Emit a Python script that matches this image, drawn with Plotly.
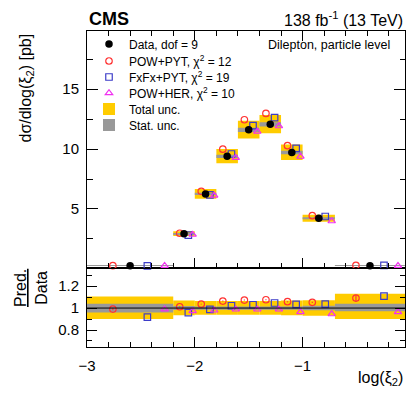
import plotly.graph_objects as go

# --- data ---
bin_edges = [-3.0, -2.2, -2.0, -1.8, -1.6, -1.4, -1.2, -1.0, -0.7, -0.05]
data_xsec = [0.27, 2.94, 6.25, 9.39, 11.6, 12.06, 9.72, 4.22, 0.27]

# relative uncertainties (up / down)
tot_up = [0.105, 0.07, 0.065, 0.065, 0.065, 0.065, 0.068, 0.072, 0.13]
tot_dn = [0.10, 0.065, 0.062, 0.062, 0.062, 0.062, 0.065, 0.07, 0.10]
stat_up = [0.04, 0.018, 0.015, 0.015, 0.015, 0.015, 0.015, 0.02, 0.04]
stat_dn = [0.04, 0.018, 0.015, 0.015, 0.015, 0.015, 0.015, 0.02, 0.03]

# prediction / data
ratio_powpyt = [0.991, 1.012, 1.036, 1.064, 1.073, 1.076, 1.058, 1.052, 1.091]
ratio_powpyt_err = [0.012, 0.004, 0.004, 0.004, 0.004, 0.004, 0.004, 0.006, 0.03]
ratio_fxfx = [0.918, 0.958, 0.988, 1.021, 1.030, 1.046, 1.034, 1.036, 1.109]
ratio_powher = [0.990, 0.973, 0.979, 0.988, 0.988, 0.988, 0.964, 0.945, 0.964]

legend_names = ["Data, dof = 9", "POW+PYT, χ<sup>2</sup> = 12", "FxFx+PYT, χ<sup>2</sup> = 19",
                "POW+HER, χ<sup>2</sup> = 10", "Total unc.", "Stat. unc."]

FONT = "Liberation Sans, Arial, Helvetica, sans-serif"
YELLOW = "#ffcc00"
GRAY = "#999999"
RED = "#ff3333"
BLUE = "#3c3cc8"
MAGENTA = "#f030f0"

centers = [(a + b) / 2 for a, b in zip(bin_edges[:-1], bin_edges[1:])]
widths = [b - a for a, b in zip(bin_edges[:-1], bin_edges[1:])]
x_red = [c - 0.2 * w for c, w in zip(centers, widths)]
x_blue = [c + 0.2 * w for c, w in zip(centers, widths)]
x_mag = [c + 0.4 * w for c, w in zip(centers, widths)]

fig = go.Figure()


def add_band(lo, hi, color, xa, ya, name=None, legend=None):
    fig.add_trace(go.Bar(
        x=centers, y=[h - l for l, h in zip(lo, hi)], base=lo, width=widths,
        marker=dict(color=color, line_width=0), xaxis=xa, yaxis=ya,
        name=name, legend=legend, showlegend=name is not None, hoverinfo="skip",
    ))


# --- upper panel bands ---
add_band([d * (1 - e) for d, e in zip(data_xsec, tot_dn)],
         [d * (1 + e) for d, e in zip(data_xsec, tot_up)], YELLOW, "x2", "y2",
         legend_names[4], "legend5")
add_band([d * (1 - e) for d, e in zip(data_xsec, stat_dn)],
         [d * (1 + e) for d, e in zip(data_xsec, stat_up)], GRAY, "x2", "y2",
         legend_names[5], "legend6")

# --- lower panel bands ---
add_band([1 - e for e in tot_dn], [1 + e for e in tot_up], YELLOW, "x", "y")
add_band([1 - e for e in stat_dn], [1 + e for e in stat_up], GRAY, "x", "y")

# --- predictions ---
models = [
    (ratio_powpyt, x_red, dict(symbol="circle-open", color=RED, size=6.5, line=dict(width=1.2, color=RED)), 1, "legend2"),
    (ratio_fxfx, x_blue, dict(symbol="square-open", color=BLUE, size=6.5, line=dict(width=1.2, color=BLUE)), 2, "legend3"),
    (ratio_powher, x_mag, dict(symbol="triangle-up-open", color=MAGENTA, size=6.5, line=dict(width=1.2, color=MAGENTA)), 3, "legend4"),
]
for ratio, xs, marker, li, leg in models:
    fig.add_trace(go.Scatter(
        x=xs, y=[d * r for d, r in zip(data_xsec, ratio)], mode="markers", marker=marker,
        xaxis="x2", yaxis="y2", name=legend_names[li], legend=leg, cliponaxis=False,
    ))
    err = dict(type="data", array=ratio_powpyt_err, color=RED, thickness=1.2, width=0) if li == 1 else None
    fig.add_trace(go.Scatter(
        x=xs, y=ratio, mode="markers", marker=marker, error_y=err,
        xaxis="x", yaxis="y", showlegend=False,
    ))

# --- data ---
fig.add_trace(go.Scatter(
    x=centers, y=data_xsec, mode="markers", marker=dict(color="black", size=7.5),
    xaxis="x2", yaxis="y2", name=legend_names[0], legend="legend", cliponaxis=False,
))

fig.add_shape(type="line", xref="x domain", yref="y", x0=0, x1=1, y0=1, y1=1,
              line=dict(color="black", width=1))

# --- layout ---
W, H = 407, 394
ML, MR, MT, MB = 87, 2, 31, 47
PW = W - ML - MR
PH = H - MT - MB
split = 79.3 / PH


def px_x(x):
    return (x - ML) / PW


def px_y(y):
    return 1 - (y - MT) / PH


common = dict(showgrid=False, zeroline=False, showline=True, linecolor="black", linewidth=1,
              ticks="inside", tickcolor="black", tickwidth=1,
              tickfont=dict(family=FONT, size=15, color="black"))

layout = dict(
    width=W, height=H, margin=dict(l=ML, r=MR, t=MT, b=MB),
    plot_bgcolor="white", paper_bgcolor="white", barmode="overlay",
    font=dict(family=FONT, color="black"),
    xaxis=dict(common, domain=[0, 1], anchor="y", range=[-3, -0.05], dtick=1, tick0=0,
               ticklen=10, mirror=True, ticklabelstandoff=5,
               minor=dict(dtick=0.2, ticklen=5, ticks="inside", tickcolor="black")),
    yaxis=dict(common, domain=[0, split], anchor="x", range=[0.645, 1.368], dtick=0.2, tick0=0,
               ticklen=10, mirror="allticks", ticklabelstandoff=4,
               minor=dict(dtick=0.1, ticklen=5, ticks="inside", tickcolor="black")),
    xaxis2=dict(common, domain=[0, 1], anchor="y2", matches="x", range=[-3, -0.05], dtick=1, tick0=0,
                ticklen=10, mirror="allticks", showticklabels=False,
                minor=dict(dtick=0.2, ticklen=5, ticks="inside", tickcolor="black")),
    yaxis2=dict(common, domain=[split, 1], anchor="x2", range=[0.1, 19.85], dtick=5, tick0=0,
                ticklen=11, mirror="allticks", ticklabelstandoff=4,
                minor=dict(dtick=2.5, ticklen=5.5, ticks="inside", tickcolor="black")),
)

row_centers = [44, 61, 77, 93, 109, 125]
for i, yc in enumerate(row_centers):
    key = "legend" if i == 0 else f"legend{i + 1}"
    layout[key] = dict(x=px_x(89), xanchor="left", y=px_y(yc),
                       yanchor="middle", bgcolor="rgba(0,0,0,0)", borderwidth=0,
                       font=dict(family=FONT, size=12, color="black"))
fig.update_layout(layout)

ann = [
    dict(text="<b>CMS</b>", x=0, y=1, xanchor="left", yanchor="bottom", font_size=18),
    dict(text="138 fb<sup>-1</sup> (13 TeV)", x=1, y=1, xanchor="right", yanchor="bottom", font_size=16),
    dict(text="Dilepton, particle level", x=px_x(392), y=px_y(45),
         xanchor="right", yanchor="middle", font_size=12.5),
    dict(text="log(ξ<sub>2</sub>)", x=1, y=px_y(378), xanchor="right", yanchor="middle", font_size=16),
    dict(text="dσ/dlog(ξ<sub>2</sub>) [pb]", x=px_x(26), y=1, xanchor="center",
         yanchor="top", textangle=-90, font_size=16),
    dict(text="<u>Pred.</u><br>Data", x=px_x(31), y=px_y(288),
         xanchor="center", yanchor="middle", textangle=-90, font_size=16),
]
for a in ann:
    fig.add_annotation(xref="paper", yref="paper", showarrow=False,
                       font=dict(family=FONT, color="black", size=a.pop("font_size")), **a)

# drop the default page margin so the figure sits at the window corner
fig.write_html("out.html", config={"displayModeBar": False},
               post_script="document.body.style.margin='0';document.body.style.overflow='hidden';")
